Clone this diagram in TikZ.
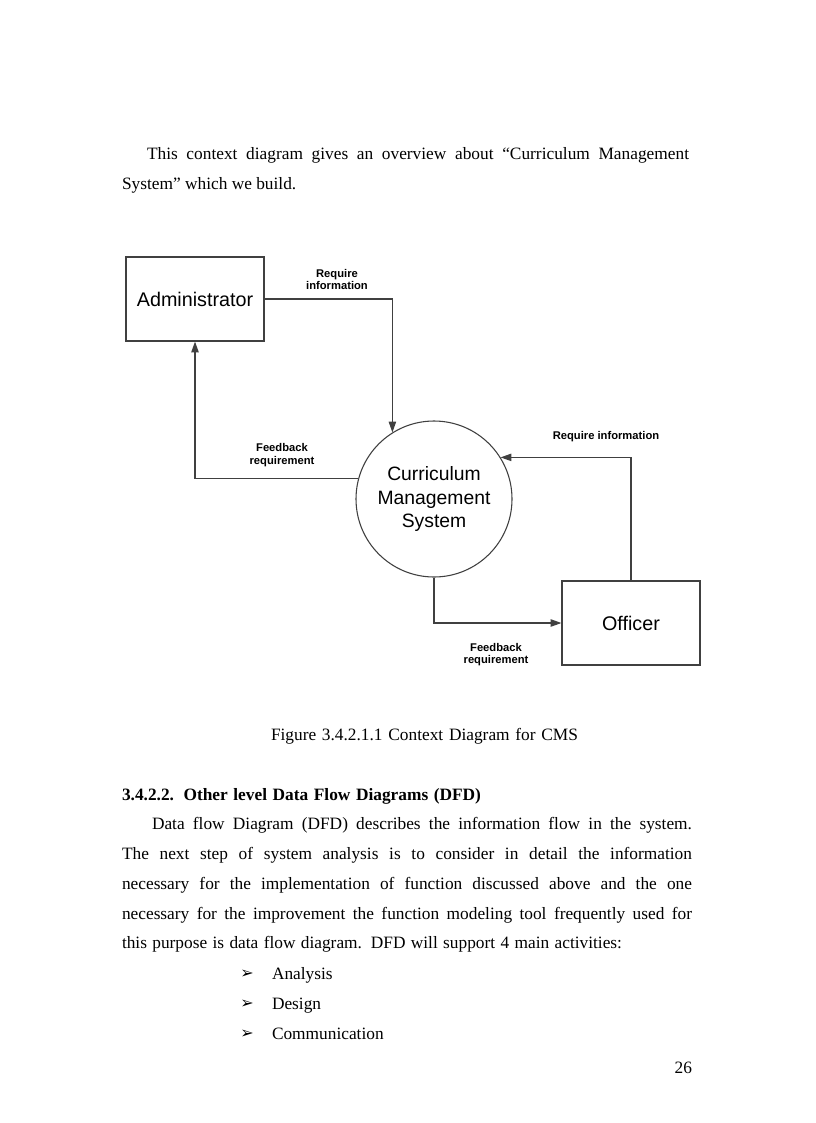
\documentclass[tikz,border=0pt]{standalone}
\usepackage{fontspec}
\setmainfont{Liberation Serif}
\newfontfamily\arial{Liberation Sans}
\newfontfamily\djv{DejaVu Sans}
\usetikzlibrary{arrows.meta}
\begin{document}
\begin{tikzpicture}[x=0.75pt,y=-0.75pt,
  body/.style={anchor=base west, inner sep=0pt, outer sep=0pt, font=\fontsize{13pt}{15pt}\selectfont},
  bodyb/.style={body, font=\bfseries\fontsize{13pt}{15pt}\selectfont},
  bul/.style={anchor=base west, inner sep=0pt, font=\djv\fontsize{12pt}{14pt}\selectfont},
  entity/.style={draw=black!75, line width=0.9pt, minimum width=103.5pt, minimum height=63pt, inner sep=0pt, font=\arial\fontsize{14.8pt}{17pt}\selectfont},
  proc/.style={circle, draw=black!75, line width=0.8pt, minimum size=117pt, inner sep=0pt, align=center, font=\arial\fontsize{14.5pt}{17.6pt}\selectfont},
  flow/.style={draw=black!75, line width=0.8pt, -{Triangle[length=8pt,width=5.5pt]}},
  lbl/.style={font=\arial\bfseries\fontsize{8.4pt}{9.4pt}\selectfont, align=center, inner sep=0pt}
]
\useasboundingbox[fill=white] (0,0) rectangle (816,1123);

% top paragraph
\node[body] (t1) at (147,160) {\makebox[406.5pt][s]{This context diagram gives an overview about “Curriculum Management}};
\node[body] (t2) at (122,190) {System” which we build.};

% diagram
\node[entity] (admin) at (195,299) {Administrator};
\node[proc] (cms) at (434,499) {Curriculum\\Management\\System};
\node[entity] (officer) at (631,623) {Officer};

\draw[flow] (admin.east) -| (cms.122.6);
\draw[flow] (cms.165.9) -| (admin.south);
\draw[flow] (officer.north) |- (cms.32);
\draw[flow] (cms.south) |- (officer.west);

\node[lbl] (l1) at (337,279.5) {Require\\information};
\node[lbl] (l2) at (282,455) {Feedback\\requirement};
\node[lbl] (l3) at (606,437) {Require information};
\node[lbl] (l4) at (496,654.5) {Feedback\\requirement};

% caption
\node[body] (cap) at (271,740) {\makebox[230.25pt][s]{Figure 3.4.2.1.1 Context Diagram for CMS}};

% heading
\node[bodyb] (h) at (122,800) {\makebox[269.25pt][s]{3.4.2.2. Other level Data Flow Diagrams (DFD)}};

% paragraph
\node[body] (p1) at (152,829.5) {\makebox[405pt][s]{Data flow Diagram (DFD) describes the information flow in the system.}};
\node[body] (p2) at (122,859.5) {\makebox[427.5pt][s]{The next step of system analysis is to consider in detail the information}};
\node[body] (p3) at (122,889.5) {\makebox[427.5pt][s]{necessary for the implementation of function discussed above and the one}};
\node[body] (p4) at (122,919) {\makebox[427.5pt][s]{necessary for the improvement the function modeling tool frequently used for}};
\node[body] (p5) at (122,948.5) {\makebox[375pt][s]{this purpose is data flow diagram. DFD will support 4 main activities:}};

% bullets
\node[bul] (b1) at (240,978.5) {➢};
\node[body] (i1) at (272,979) {Analysis};
\node[bul] (b2) at (240,1008.5) {➢};
\node[body] (i2) at (272,1009) {Design};
\node[bul] (b3) at (240,1038.5) {➢};
\node[body] (i3) at (272,1039) {Communication};

% page number
\node[body, anchor=base east] (pg) at (692,1073) {26};
\end{tikzpicture}
\end{document}
